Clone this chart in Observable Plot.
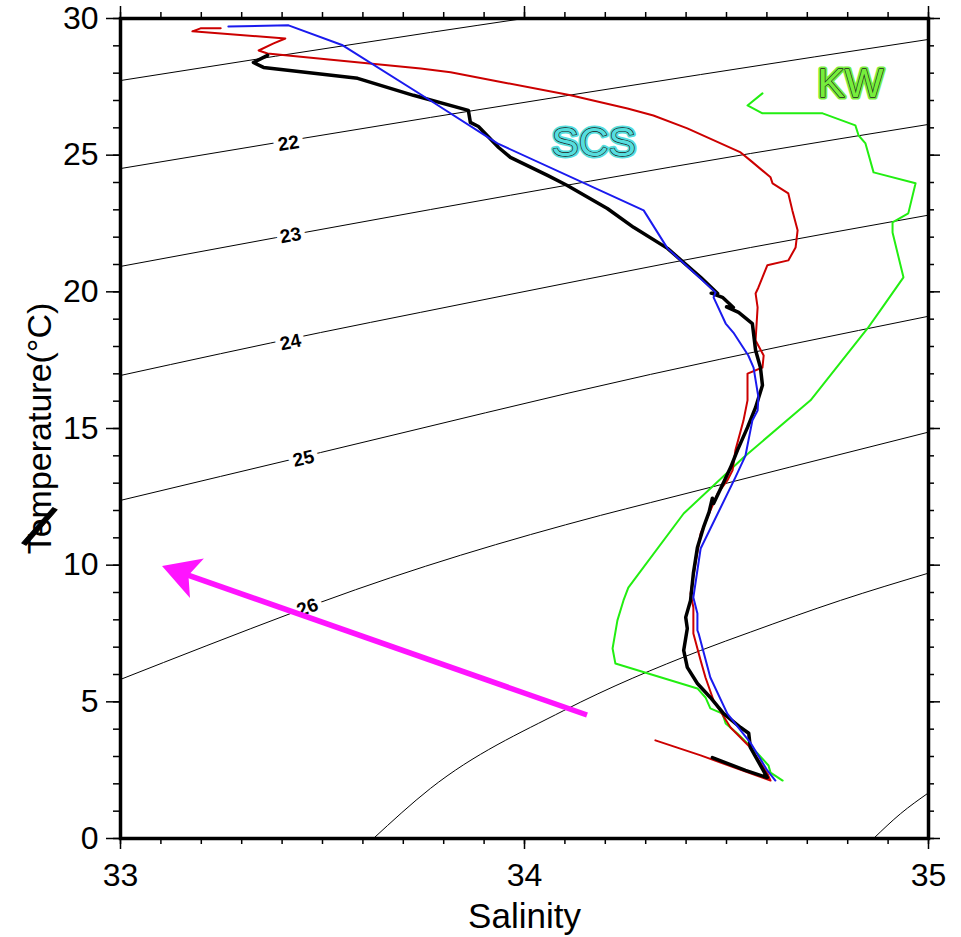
<!DOCTYPE html>
<html>
<head>
<meta charset="utf-8">
<script src="https://cdn.jsdelivr.net/npm/d3@7"></script>
<script src="https://cdn.jsdelivr.net/npm/@observablehq/plot@0.6"></script>
<style>
  html, body { margin: 0; padding: 0; background: #fff; }
  #chart svg { display: block; }
</style>
</head>
<body>
<div id="chart"></div>
<script>
// ---- Tick labels ----
const salinityTicks = [33, 34, 35];
const temperatureTicks = [0, 5, 10, 15, 20, 25, 30];

// ---- T-S profiles [salinity, temperature] ----
const blackProfile = [
  [33.364,28.65],[33.329,28.39],[33.354,28.21],[33.587,27.81],[33.725,27.19],[33.861,26.64],
  [33.866,26.20],[33.886,26.05],[33.936,25.28],[33.965,24.92],[34.057,24.26],[34.106,23.89],
  [34.205,23.05],[34.270,22.36],[34.354,21.59],[34.436,20.53],[34.478,19.94],[34.462,19.95],
  [34.490,19.80],[34.517,19.43],[34.500,19.45],[34.530,19.25],[34.564,18.84],[34.572,17.86],
  [34.584,17.23],[34.589,16.58],[34.572,15.77],[34.552,15.04],[34.527,14.20],[34.510,13.57],
  [34.493,13.03],[34.468,12.26],[34.465,12.45],[34.457,11.95],[34.443,11.38],[34.428,10.65],
  [34.418,9.70],[34.411,8.71],[34.399,8.09],[34.403,7.68],[34.394,6.88],[34.403,6.26],
  [34.428,5.67],[34.460,5.16],[34.493,4.57],[34.535,4.06],[34.555,3.85],[34.559,3.33],
  [34.601,2.23],[34.547,2.49],[34.465,2.96]
];
const redProfile = [
  [33.248,29.64],[33.198,29.64],[33.178,29.53],[33.408,29.27],[33.379,29.09],[33.342,28.83],
  [33.364,28.72],[33.743,28.17],[33.817,28.03],[33.948,27.66],[34.114,27.19],[34.255,26.71],
  [34.319,26.45],[34.403,25.98],[34.535,25.10],[34.559,24.81],[34.609,24.19],[34.614,23.97],
  [34.653,23.60],[34.663,22.98],[34.676,22.25],[34.671,21.62],[34.653,21.15],[34.601,20.97],
  [34.589,20.53],[34.579,20.16],[34.572,19.94],[34.577,19.43],[34.572,18.22],[34.592,17.67],
  [34.589,17.23],[34.552,17.01],[34.552,16.03],[34.542,15.29],[34.522,14.20],[34.515,13.47],
  [34.502,13.10],[34.478,12.62],[34.436,11.16],[34.423,10.06],[34.411,8.96],[34.418,8.45],
  [34.418,7.50],[34.436,6.51],[34.448,5.89],[34.468,5.05],[34.510,4.06],[34.559,3.33],
  [34.601,2.38],[34.609,2.12],[34.436,3.04],[34.324,3.59]
];
const blueProfile = [
  [33.267,29.71],[33.416,29.75],[33.550,29.02],[33.767,27.00],[33.933,25.43],[34.295,22.98],
  [34.354,21.59],[34.473,19.98],[34.468,19.80],[34.498,18.84],[34.517,18.51],[34.554,17.67],
  [34.567,17.23],[34.579,16.14],[34.577,15.66],[34.564,15.29],[34.547,14.01],[34.522,13.21],
  [34.436,10.61],[34.418,8.82],[34.428,8.23],[34.428,7.61],[34.431,7.50],[34.460,5.89],
  [34.502,4.57],[34.559,3.51],[34.601,2.49],[34.621,2.12]
];
const greenProfile = [
  [34.589,27.26],[34.552,26.82],[34.589,26.53],[34.738,26.53],[34.819,26.09],[34.827,25.72],
  [34.844,25.43],[34.864,24.37],[34.968,23.97],[34.950,22.87],[34.911,22.54],[34.911,22.17],
  [34.938,20.53],[34.886,19.43],[34.849,18.66],[34.708,16.03],[34.542,13.94],[34.394,11.89],
  [34.257,9.18],[34.245,8.71],[34.230,7.98],[34.218,6.95],[34.225,6.40],[34.428,5.49],
  [34.448,5.16],[34.460,4.76],[34.490,4.57],[34.498,4.21],[34.527,3.84],[34.577,3.11],
  [34.604,2.67],[34.609,2.41],[34.639,2.12]
];

// ---- Isopycnals (sigma-t) [salinity, temperature] ----
const sigma21 = [[33.0,27.73],[33.767,29.49],[33.998,30.0]];
const sigma22 = [[33.0,24.51],[33.767,26.38],[34.436,27.95],[34.998,29.23]];
const sigma23 = [[33.0,20.93],[33.767,23.01],[34.559,25.06],[34.998,26.12]];
const sigma24 = [[33.0,16.94],[33.495,18.51],[33.743,19.25],[34.559,21.62],[34.998,22.80]];
const sigma25 = [[33.0,12.37],[33.495,14.12],[34.312,16.98],[34.998,19.10]];
const sigma26 = [[33.0,5.82],[33.428,8.27],[33.495,8.64],[34.188,11.82],[34.312,12.29],[34.998,14.86]];
const sigma27 = [[33.626,0.0],[33.767,1.83],[34.097,4.68],[34.436,6.88],[34.559,7.55],[34.782,8.71],[34.998,9.70]];
const sigma28 = [[34.864,0.0],[34.931,0.91],[34.998,1.65]];

const contourLabels = [
  {level: "22", S: 33.416, T: 25.43},
  {level: "23", S: 33.421, T: 22.06},
  {level: "24", S: 33.421, T: 18.15},
  {level: "25", S: 33.453, T: 13.90},
  {level: "26", S: 33.463, T: 8.45}
];
const waterLabels = [
  {name: "SCS", S: 34.171, T: 25.45},
  {name: "KW", S: 34.807, T: 27.59}
];

// ---- Arrow [salinity, temperature] ----
const arrowTail = [34.156, 4.50];
const arrowTip = [33.104, 9.95];

// ---- styles (kept out of the data) ----
const labelAngle = {"22": -9, "23": -10, "24": -12, "25": -13, "26": -21};
const waterColor = {"SCS": "#55dede", "KW": "#77ee3c"};
const isopycnals = [sigma21, sigma22, sigma23, sigma24, sigma25, sigma26, sigma27, sigma28];

const S = d => d[0], T = d => d[1];

const chart = Plot.plot({
  width: 961,
  height: 937,
  marginLeft: 120,
  marginRight: 33,
  marginTop: 18,
  marginBottom: 99,
  x: {domain: [33, 35]},
  y: {domain: [0, 30]},
  style: {fontFamily: "'Liberation Sans', Arial, sans-serif", background: "#fff", color: "#000"},
  marks: [
    ...isopycnals.map(c => Plot.line(c, {x: S, y: T, stroke: "#000", strokeWidth: 1, curve: "monotone-x"})),
    Plot.text(contourLabels, {
      x: "S", y: "T", text: "level", rotate: d => labelAngle[d.level],
      fontSize: 19, fontWeight: "bold", fill: "#000",
      stroke: "#fff", strokeWidth: 10, paintOrder: "stroke"
    }),
    Plot.line(greenProfile, {x: S, y: T, stroke: "#22ee11", strokeWidth: 2}),
    Plot.line(redProfile, {x: S, y: T, stroke: "#cc0000", strokeWidth: 2}),
    Plot.line(blackProfile, {x: S, y: T, stroke: "#000", strokeWidth: 3.5, strokeLinejoin: "round"}),
    Plot.line(blueProfile, {x: S, y: T, stroke: "#1a1aee", strokeWidth: 2}),
    Plot.text(waterLabels, {
      x: "S", y: "T", text: "name", fontSize: 41,
      fill: d => waterColor[d.name], stroke: d => waterColor[d.name], strokeWidth: 5
    }),
    Plot.text(waterLabels, {
      x: "S", y: "T", text: "name", fontSize: 41,
      fill: d => waterColor[d.name], stroke: "#222", strokeWidth: 1.3
    }),
    // axes
    Plot.axisX({anchor: "bottom", ticks: 20, tickSize: 6, strokeWidth: 1.5, tickFormat: () => "", label: null}),
    Plot.axisX(salinityTicks, {anchor: "bottom", tickSize: 11, tickPadding: 14, strokeWidth: 1.5, fontSize: 32, tickFormat: d => String(d), label: null}),
    Plot.axisX({anchor: "top", ticks: 20, tickSize: 7, strokeWidth: 1.5, tickFormat: () => "", label: null}),
    Plot.axisX(salinityTicks, {anchor: "top", tickSize: 13, strokeWidth: 1.5, tickFormat: () => "", label: null}),
    Plot.axisY({anchor: "left", ticks: 30, tickSize: 7, strokeWidth: 1.5, tickFormat: () => "", label: null}),
    Plot.axisY(temperatureTicks, {anchor: "left", tickSize: 14, tickPadding: 8, strokeWidth: 1.5, fontSize: 32, tickFormat: d => String(d), label: null}),
    Plot.axisY({anchor: "right", ticks: 30, tickSize: 5, strokeWidth: 1.5, tickFormat: () => "", label: null}),
    Plot.axisY(temperatureTicks, {anchor: "right", tickSize: 11, strokeWidth: 1.5, tickFormat: () => "", label: null}),
    Plot.frame({stroke: "#000", strokeWidth: 3.5}),
    Plot.text(["Salinity"], {frameAnchor: "bottom", lineAnchor: "top", dy: 65, fontSize: 35, fill: "#000"}),
    Plot.text(["Temperature(°C)"], {frameAnchor: "left", textAnchor: "middle", rotate: -90, dx: -80, fontSize: 34, fill: "#000"}),
    Plot.text(["/"], {frameAnchor: "left", textAnchor: "middle", dx: -82, dy: 100, fontSize: 62, rotate: 26, fill: "#000", stroke: "#000", strokeWidth: 1})
  ]
});

// Magenta arrow drawn through the plot's own scales
const xs = chart.scale("x"), ys = chart.scale("y");
const tx = xs.apply(arrowTip[0]), ty = ys.apply(arrowTip[1]);
const bx = xs.apply(arrowTail[0]), by = ys.apply(arrowTail[1]);
const len = Math.hypot(bx - tx, by - ty);
const ux = (bx - tx) / len, uy = (by - ty) / len;
const nx = -uy, ny = ux;
const g = d3.select(chart).append("g");
g.append("line")
  .attr("x1", tx + ux * 26).attr("y1", ty + uy * 26)
  .attr("x2", bx).attr("y2", by)
  .attr("stroke", "#ff14ff").attr("stroke-width", 5.5);
g.append("path")
  .attr("d", `M${tx},${ty}L${tx + ux * 37 + nx * 21},${ty + uy * 37 + ny * 21}L${tx + ux * 28},${ty + uy * 28}L${tx + ux * 37 - nx * 21},${ty + uy * 37 - ny * 21}Z`)
  .attr("fill", "#ff14ff");

document.getElementById("chart").appendChild(chart);
</script>
</body>
</html>
